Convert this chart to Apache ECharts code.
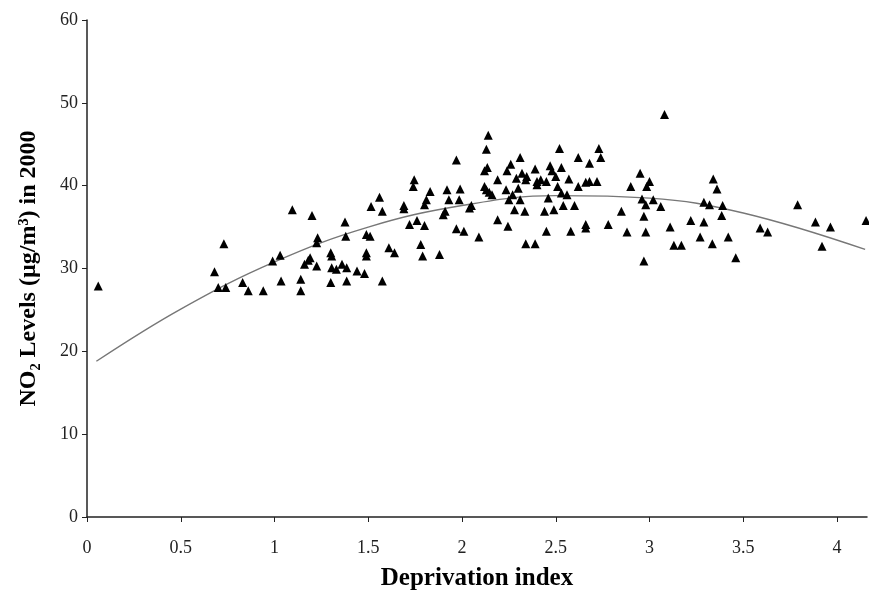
<!DOCTYPE html>
<html>
<head>
<meta charset="utf-8">
<script src="https://cdn.jsdelivr.net/npm/echarts@6/dist/echarts.min.js"></script>
<style>
  html, body { margin: 0; padding: 0; background: #fff; }
  #chart { width: 869px; height: 596px; }
</style>
</head>
<body>
<div id="chart"></div>
<script>
// deprivation index / NO2 pairs
var points = [
  [0.06, 27.9], [0.68, 29.6], [0.73, 33.0], [0.70, 27.7], [0.74, 27.7],
  [0.83, 28.3], [0.86, 27.3], [0.94, 27.3], [0.99, 30.9], [1.03, 31.6],
  [1.095, 37.1], [1.20, 36.4], [1.035, 28.5], [1.14, 28.7], [1.14, 27.3],
  [1.16, 30.5], [1.18, 31.0], [1.19, 31.3], [1.225, 30.3], [1.23, 33.7],
  [1.225, 33.1], [1.30, 28.3], [1.30, 31.9], [1.305, 31.5], [1.305, 30.1],
  [1.33, 29.9], [1.36, 30.5], [1.385, 30.1], [1.385, 28.5], [1.376, 35.6],
  [1.38, 33.9], [1.44, 29.7], [1.48, 29.4], [1.49, 31.9], [1.49, 31.5],
  [1.49, 34.1], [1.51, 33.9], [1.515, 37.5], [1.56, 38.6], [1.575, 36.9],
  [1.575, 28.5], [1.61, 32.5], [1.64, 31.9], [1.69, 37.2], [1.69, 37.6],
  [1.72, 35.3], [1.74, 39.9], [1.745, 40.7], [1.76, 35.8], [1.80, 35.2],
  [1.81, 38.3], [1.80, 37.7], [1.83, 39.3], [1.78, 32.9], [1.79, 31.5],
  [1.88, 31.7], [1.90, 36.5], [1.91, 36.9], [1.92, 39.5], [1.93, 38.3],
  [1.97, 43.1], [1.985, 38.3], [1.99, 39.6], [1.97, 34.8], [2.01, 34.5],
  [2.04, 37.3], [2.05, 37.6], [2.09, 33.8], [2.14, 46.1], [2.13, 44.4],
  [2.12, 41.8], [2.135, 42.2], [2.12, 39.9], [2.13, 39.5], [2.145, 39.2],
  [2.16, 38.9], [2.19, 40.7], [2.19, 35.9], [2.24, 41.8], [2.26, 42.6],
  [2.235, 39.5], [2.25, 38.3], [2.245, 35.1], [2.27, 38.9], [2.28, 37.1],
  [2.29, 40.9], [2.30, 39.7], [2.31, 43.4], [2.32, 41.5], [2.34, 40.7],
  [2.345, 41.1], [2.335, 36.9], [2.34, 33.0], [2.31, 38.3], [2.39, 42.0],
  [2.39, 33.0], [2.40, 40.1], [2.40, 40.5], [2.42, 40.7], [2.45, 40.5],
  [2.46, 38.5], [2.44, 36.9], [2.47, 42.4], [2.48, 41.8], [2.52, 44.5],
  [2.50, 41.1], [2.53, 42.2], [2.51, 39.9], [2.53, 39.1], [2.49, 37.1],
  [2.54, 37.6], [2.56, 38.9], [2.57, 40.8], [2.60, 37.6], [2.45, 34.5],
  [2.58, 34.5], [2.62, 43.4], [2.62, 39.9], [2.66, 40.4], [2.68, 40.5],
  [2.72, 40.5], [2.68, 42.7], [2.73, 44.5], [2.74, 43.4], [2.66, 35.3],
  [2.66, 34.9], [2.78, 35.3], [2.85, 36.9], [2.88, 34.4], [2.90, 39.9],
  [2.95, 41.5], [3.00, 40.5], [2.985, 39.9], [2.96, 38.4], [2.98, 37.7],
  [3.02, 38.3], [3.06, 37.5], [2.97, 36.3], [2.98, 34.4], [2.97, 30.9],
  [3.08, 48.6], [3.11, 35.0], [3.13, 32.8], [3.17, 32.8], [3.22, 35.8],
  [3.29, 35.6], [3.27, 33.8], [3.335, 33.0], [3.29, 38.0], [3.32, 37.7],
  [3.34, 40.8], [3.36, 39.6], [3.39, 37.6], [3.385, 36.4], [3.42, 33.8],
  [3.46, 31.3], [3.59, 34.9], [3.63, 34.4], [3.79, 37.7], [3.885, 35.6],
  [3.965, 35.0], [3.92, 32.7], [4.155, 35.8]
];

// fitted curve, read at a few x positions
var fitX = [0.05, 0.5, 1, 1.5, 2, 2.5, 3, 3.5, 4.15];
var fitY = [18.8, 25.1, 30.8, 35.0, 37.6, 38.8, 38.5, 36.7, 32.3];

var xTicks = [0, 0.5, 1, 1.5, 2, 2.5, 3, 3.5, 4];
var yTicks = [0, 10, 20, 30, 40, 50, 60];

var font = 'Liberation Serif';
var chart = echarts.init(document.getElementById('chart'));

chart.setOption({
  animation: false,
  backgroundColor: '#fff',
  grid: { left: 87, right: 2, top: 20, bottom: 79 },
  xAxis: {
    type: 'value',
    min: 0,
    max: 4.16,
    name: 'Deprivation index',
    nameLocation: 'middle',
    nameGap: 49,
    nameTextStyle: { fontFamily: font, fontWeight: 'bold', fontSize: 25, color: '#000' },
    axisLine: { lineStyle: { color: '#222', width: 1.5 } },
    axisTick: { show: true, length: 5, customValues: xTicks, lineStyle: { color: '#222' } },
    axisLabel: { customValues: xTicks, margin: 22, fontFamily: font, fontSize: 18, color: '#222' },
    splitLine: { show: false }
  },
  yAxis: {
    type: 'value',
    min: 0,
    max: 60,
    interval: 10,
    name: 'NO\u2082 Levels (\u00b5g/m\u00b3) in 2000',
    nameLocation: 'middle',
    nameGap: 46,
    nameTextStyle: { fontFamily: font, fontWeight: 'bold', fontSize: 24, color: '#000' },
    axisLine: { show: true, lineStyle: { color: '#222', width: 1.5 } },
    axisTick: { show: true, length: 5, customValues: yTicks, lineStyle: { color: '#222' } },
    axisLabel: { customValues: yTicks, margin: 9, fontFamily: font, fontSize: 18, color: '#222' },
    splitLine: { show: false }
  },
  series: [
    {
      type: 'line',
      data: fitX.map(function (x, i) { return [x, fitY[i]]; }),
      smooth: 0.4,
      showSymbol: false,
      lineStyle: { color: '#777', width: 1.4 },
      z: 1
    },
    {
      type: 'scatter',
      data: points,
      symbol: 'triangle',
      symbolSize: 9,
      itemStyle: { color: '#000', opacity: 1 },
      z: 2
    }
  ]
});
</script>
</body>
</html>
